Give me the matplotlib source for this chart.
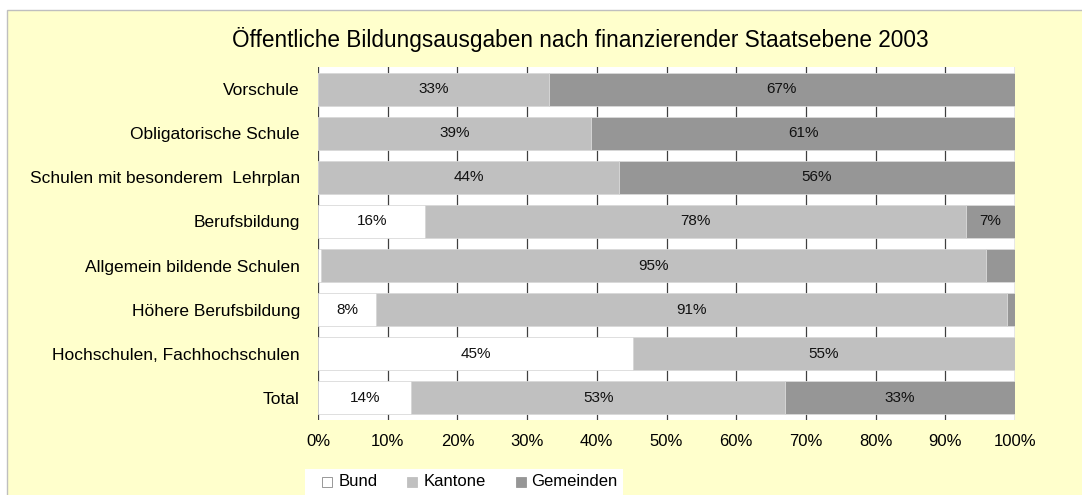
import matplotlib.pyplot as plt
from matplotlib.patches import Rectangle
from matplotlib.lines import Line2D
import numpy as np

plt.rcParams['font.family'] = ['Liberation Sans', 'DejaVu Sans']

# data (share in %)
categories = ["Vorschule", "Obligatorische Schule", "Schulen mit besonderem  Lehrplan",
              "Berufsbildung", "Allgemein bildende Schulen", "Höhere Berufsbildung",
              "Hochschulen, Fachhochschulen", "Total"]
bund = [0.0, 0.0, 0.0, 15.4, 0.5, 8.3, 45.2, 13.4]
kantone = [33.1, 39.2, 43.2, 77.6, 95.3, 90.6, 54.8, 53.6]
gemeinden = [66.9, 60.8, 56.8, 7.0, 4.2, 1.1, 0.0, 33.0]
bund_lbl = ["", "", "", "16%", "", "8%", "45%", "14%"]
kantone_lbl = ["33%", "39%", "44%", "78%", "95%", "91%", "55%", "53%"]
gemeinden_lbl = ["67%", "61%", "56%", "7%", "", "", "", "33%"]
series = ["Bund", "Kantone", "Gemeinden"]
colors = ["#FFFFFF", "#C0C0C0", "#969696"]

W, H = 1082, 495
fig = plt.figure(figsize=(W / 100, H / 100), dpi=100)
fig.patch.set_facecolor("white")
fig.patches.append(Rectangle((7 / W, -0.01), 1, 1.01 - 10 / H, transform=fig.transFigure,
                             facecolor="#FFFFCC", edgecolor="#BFBFBF", lw=1, zorder=-5))

ax = fig.add_axes([318 / W, 1 - 420 / H, 697 / W, 353 / H])
ax.set_facecolor("white")
y = np.arange(len(categories))
left = np.zeros(len(categories))
for vals, lbls, col in zip([bund, kantone, gemeinden], [bund_lbl, kantone_lbl, gemeinden_lbl], colors):
    vals = np.array(vals)
    ax.barh(y, vals, left=left, height=0.75, color=col, edgecolor="#D9D9D9", lw=0.6, zorder=3)
    for i, t in enumerate(lbls):
        if t:
            ax.text(left[i] + vals[i] / 2, y[i], t, ha="center", va="center",
                    fontsize=11, color="#111111", zorder=4)
    left += vals

ax.set_xlim(0, 100)
ax.set_ylim(len(categories) - 0.5, -0.5)
ax.set_xticks(np.arange(0, 101, 10))
ax.set_xticklabels([f"{v}%" for v in range(0, 101, 10)], fontsize=12)
ax.set_yticks(y)
ax.set_yticklabels(categories, fontsize=12.5)
ax.tick_params(length=0)
ax.tick_params(axis="x", pad=10)
ax.tick_params(axis="y", pad=13)
ax.grid(axis="x", color="#404040", lw=0.9, zorder=1)
ax.set_axisbelow(True)
for s in ax.spines.values():
    s.set_visible(False)

fig.text(580 / W, 1 - 40 / H, "Öffentliche Bildungsausgaben nach finanzierender Staatsebene 2003",
         ha="center", va="center", fontsize=16.3)

# legend box along the bottom edge
fig.patches.append(Rectangle((305 / W, -0.01), 318 / W, 0.01 + 26 / H, transform=fig.transFigure,
                             facecolor="white", edgecolor="none", zorder=1))
for name, col, mx, tx in zip(series, colors, [327, 412, 521], [339, 424, 531]):
    fig.add_artist(Line2D([mx / W], [1 - 482 / H], transform=fig.transFigure, ls="none",
                          marker="s", markersize=7.5, markerfacecolor=col,
                          markeredgecolor="#888888" if col == "#FFFFFF" else col,
                          markeredgewidth=0.6, zorder=2))
    fig.text(tx / W, 1 - 482 / H, name, ha="left", va="center", fontsize=12, zorder=2)

fig.savefig("out.png", dpi=100, facecolor=fig.get_facecolor())
